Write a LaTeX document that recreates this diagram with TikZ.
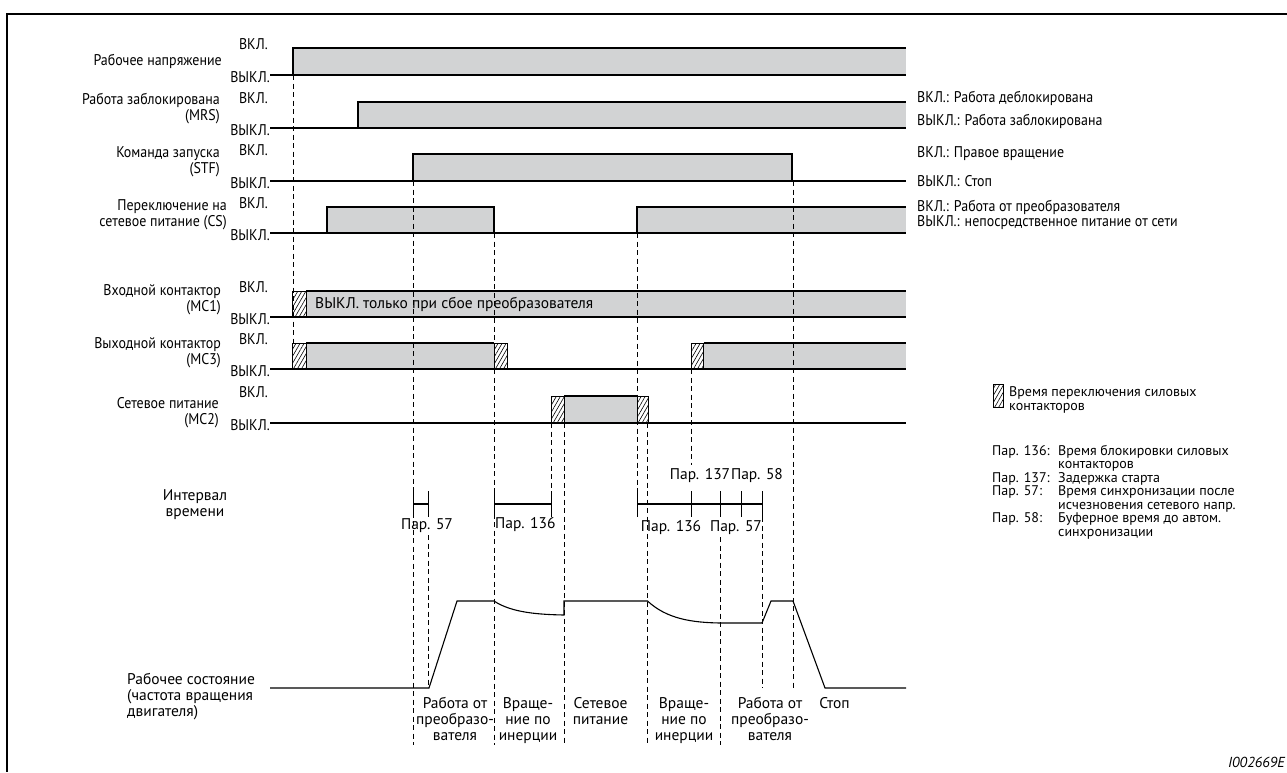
\documentclass[tikz,border=0pt]{standalone}
\usepackage{fontspec}
\setmainfont{PT Sans}
\newfontfamily\condfont[FakeStretch=0.9]{PT Sans}
\usetikzlibrary{patterns.meta}
\definecolor{sgray}{RGB}{210,211,212}
\tikzset{
  txt/.style={inner sep=0pt, font=\fontsize{15.5}{16}\selectfont},
  ctxt/.style={inner sep=0pt, font=\condfont\fontsize{15.5}{16}\selectfont},
  lgd/.style={inner sep=0pt, font=\fontsize{14}{13.5}\selectfont},
  sig/.style={line width=1.1pt},
  tline/.style={dash pattern=on 5pt off 3.5pt, line width=0.7pt},
  hatchbox/.style={draw, line width=0.9pt, pattern={Lines[angle=60,distance=3.5pt,line width=0.6pt]}}
}
\begin{document}
\begin{tikzpicture}[x=1pt, y=-1pt]
\useasboundingbox (0,0) rectangle (1287,772);
\draw[line width=2.5pt] (1287,14) -- (7,14) -- (7,772);

\fill[sgray] (293,48) rectangle (906,75);
\fill[sgray] (358,102) rectangle (906,128);
\fill[sgray] (413,154) rectangle (792,181);
\fill[sgray] (327,207) rectangle (494,233);
\fill[sgray] (637,207) rectangle (906,233);
\fill[sgray] (306,291) rectangle (906,317);
\fill[sgray] (306,343) rectangle (494,369);
\fill[sgray] (703.5,343) rectangle (906,369);
\fill[sgray] (564,396) rectangle (637,423);

\foreach \x/\ya/\yb in {293/75/343, 413/181/745, 428/535/688, 494/233/745, 551/423/491, 564/423/745,
    637/233/491, 647.5/423/745, 691/369/465, 720/537/745, 762/517/688, 793/181/688}
  \draw[tline] (\x,\ya) -- (\x,\yb);

\foreach \lo in {75,128,181,233,317,369,423}
  \draw[sig] (270,\lo) -- (906,\lo);
\draw[sig] (293,75) -- (293,48) -- (906,48);
\draw[sig] (358,128) -- (358,102) -- (906,102);
\draw[sig] (413,181) -- (413,154) -- (792,154) -- (792,181);
\draw[sig] (327,233) -- (327,207) -- (494,207) -- (494,233);
\draw[sig] (637,233) -- (637,207) -- (906,207);
\draw[sig] (306,291) -- (906,291);
\draw[sig] (306,343) -- (494,343);
\draw[sig] (703.5,343) -- (906,343);
\draw[sig] (564,396) -- (637,396);
\foreach \xa/\xb/\ya/\yb in {292.5/306/291/317, 292.5/306/343/369, 494/507/343/369,
    691/703.5/343/369, 551/564/396/423, 637/648/396/423}
  \draw[hatchbox] (\xa,\ya) rectangle (\xb,\yb);

\node[ctxt, anchor=east, align=right] (uop) at (222,61) {Рабочее напряжение};
\node[ctxt, anchor=east, align=right] (mrs) at (220,109) {Работа заблокирована\\(MRS)};
\node[ctxt, anchor=east, align=right] (stf) at (220,162) {Команда запуска\\(STF)};
\node[ctxt, anchor=east, align=right] (cs) at (227,215) {Переключение на\\сетевое питание (CS)};
\node[ctxt, anchor=east, align=right] (mc1) at (221,300) {Входной контактор\\(MC1)};
\node[ctxt, anchor=east, align=right] (mc3) at (221,353) {Выходной контактор\\(MC3)};
\node[ctxt, anchor=east, align=right] (mc2) at (219,413) {Сетевое питание\\(MC2)};
\foreach \hi/\lo [count=\i] in {48/75, 102/128, 154/181, 207/233, 291/317, 343/369, 396/423} {
  \node[ctxt, anchor=east] (on\i) at (268,\hi-4) {ВКЛ.};
  \node[ctxt, anchor=east] (off\i) at (270,\lo+2) {ВЫКЛ.};
}
\node[txt, anchor=west] (mcnote) at (315,304) {ВЫКЛ. только при сбое преобразователя};

\node[ctxt, anchor=west] (mrson) at (917,98) {ВКЛ.: Работа деблокирована};
\node[ctxt, anchor=west] (mrsoff) at (917,121) {ВЫКЛ.: Работа заблокирована};
\node[ctxt, anchor=west] (stfon) at (917,154) {ВКЛ.: Правое вращение};
\node[ctxt, anchor=west] (stfoff) at (917,181) {ВЫКЛ.: Стоп};
\node[ctxt, anchor=west] (cson) at (917,207) {ВКЛ.: Работа от преобразователя};
\node[ctxt, anchor=west] (csoff) at (917,223) {ВЫКЛ.: непосредственное питание от сети};

\foreach \x in {413,428,494,551,637,691,720,741,762}
  \draw[line width=0.9pt] (\x,491) -- (\x,517);
\draw[sig] (413,504) -- (428,504) (494,504) -- (551,504) (637,504) -- (762,504);
\node[txt] (p57a) at (427,526) {Пар. 57};
\node[txt, anchor=west] (p136a) at (495,525) {Пар. 136};
\node[txt] (p136b) at (671,528) {Пар. 136};
\node[txt] (p57b) at (736,528) {Пар. 57};
\node[txt] (p137) at (700,476) {Пар. 137};
\node[txt] (p58) at (757,476) {Пар. 58};
\node[txt, align=center] (ival) at (195,505) {Интервал\\времени};

\draw[sig] (270,688) -- (429,688) -- (457,601) -- (494,601)
  .. controls (512,613) and (540,614.5) .. (564,615) -- (564,601) -- (647.5,601)
  .. controls (667,619) and (692,622.5) .. (720,623) -- (762,623) -- (771,601)
  -- (793,601) -- (825,688) -- (906,688);
\node[txt, anchor=north west, align=left] (state) at (127,673) {Рабочее состояние\\(частота вращения\\двигателя)};
\foreach \x/\t [count=\i] in {455/{Работа от\\преобразо-\\вателя}, 528/{Враще-\\ние по\\инерции},
    600.5/{Сетевое\\питание}, 684/{Враще-\\ние по\\инерции}, 770/{Работа от\\преобразо-\\вателя}, 834.5/{Стоп}}
  \node[txt, anchor=north, align=center] (st\i) at (\x,697) {\t};

\draw[hatchbox] (993,384) rectangle (1003,407);
\node[lgd, anchor=north west, align=left, font=\fontsize{14}{14.5}\selectfont] (hatchnote) at (1009,386) {Время переключения силовых\\контакторов};
\foreach \p/\t/\y [count=\i] in {Пар. 136:/{Время блокировки силовых\\контакторов}/445, Пар. 137:/{Задержка старта}/472,
    Пар. 57:/{Время синхронизации после\\исчезновения сетевого напр.}/485.5, Пар. 58:/{Буферное время до автом.\\синхронизации}/512.5} {
  \node[lgd, anchor=north west] (pn\i) at (992,\y) {\p};
  \node[lgd, anchor=north west, align=left] (pt\i) at (1058,\y) {\t};
}
\node[txt, anchor=east, font=\fontsize{14.5}{16}\selectfont\itshape] (figid) at (1285,762) {I002669E};
\end{tikzpicture}
\end{document}
